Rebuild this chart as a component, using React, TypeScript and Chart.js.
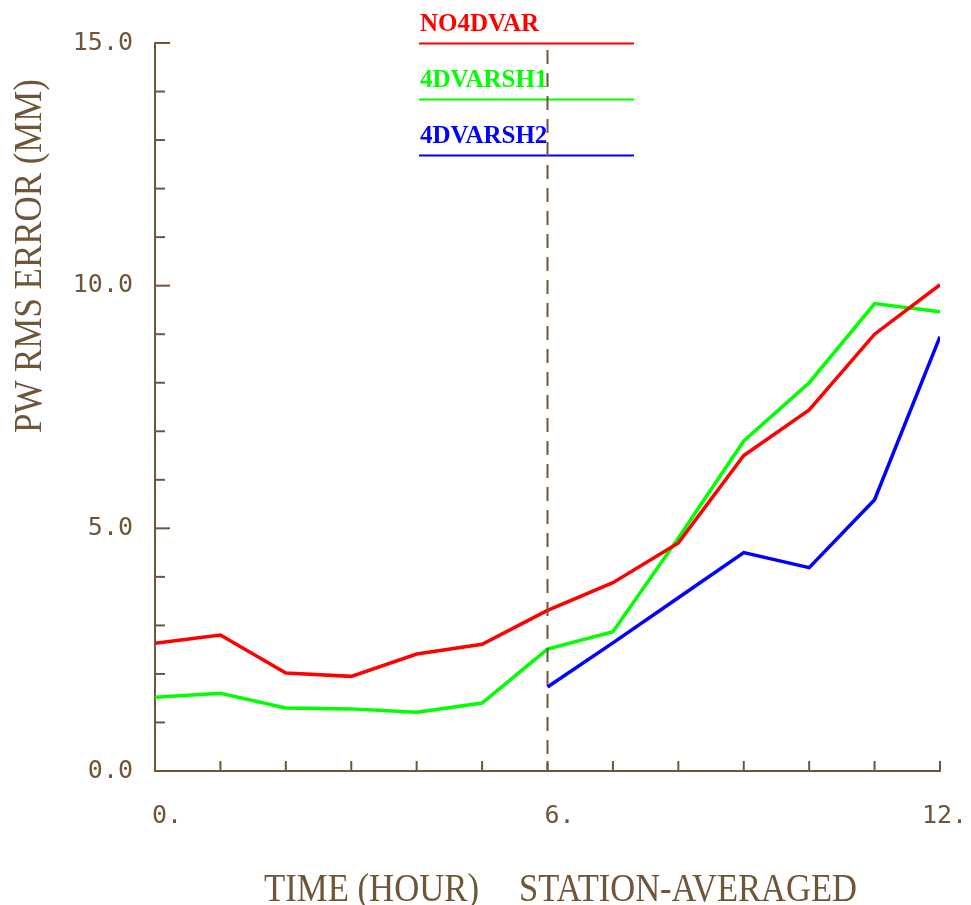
import React, { useEffect, useRef } from "react";
import { Chart, registerables } from "chart.js";

Chart.register(...registerables);

// ---- data ----
const hours = [0, 1, 2, 3, 4, 5, 6, 7, 8, 9, 10, 11, 12];
const no4dvar = [2.63, 2.8, 2.02, 1.95, 2.41, 2.61, 3.31, 3.88, 4.7, 6.5, 7.44, 9.0, 10.02];
const fdvarSH1 = [1.52, 1.6, 1.3, 1.28, 1.21, 1.4, 2.51, 2.87, 4.8, 6.8, 8.0, 9.63, 9.46];
const fdvarSH2 = [null, null, null, null, null, null, 1.73, 2.64, 3.57, 4.5, 4.19, 5.59, 8.95];
const seriesNames = ["NO4DVAR", "4DVARSH1", "4DVARSH2"];
const seriesColors = ["#ff0000", "#00ff00", "#0000ff"];
const xTickLabels = [0, 6, 12];
const yTickLabels = [0, 5, 10, 15];
const yTitle = "PW RMS ERROR (MM)";
const xTitleParts = ["TIME (HOUR)", "STATION-AVERAGED"];
const markerHour = 6;

const BROWN = "#705638";
const MONO = "'DejaVu Sans Mono', monospace";
const SERIF = "'Liberation Serif', serif";

const overlay = {
  id: "overlay",
  afterDatasetsDraw(chart: any) {
    const { ctx, chartArea } = chart;
    const xs = chart.scales.x;
    const ys = chart.scales.y;
    ctx.save();
    ctx.strokeStyle = BROWN;
    ctx.fillStyle = BROWN;
    ctx.lineWidth = 2;
    // y ticks (inward)
    for (let v = 0; v <= 15; v++) {
      const py = ys.getPixelForValue(v);
      const len = v % 5 === 0 ? 15 : 10;
      ctx.beginPath();
      ctx.moveTo(chartArea.left, py);
      ctx.lineTo(chartArea.left + len, py);
      ctx.stroke();
    }
    // x ticks (inward)
    for (const h of hours) {
      const px = xs.getPixelForValue(h);
      ctx.beginPath();
      ctx.moveTo(px, chartArea.bottom);
      ctx.lineTo(px, chartArea.bottom - 10);
      ctx.stroke();
    }
    // x tick labels
    ctx.font = `25px ${MONO}`;
    ctx.textBaseline = "middle";
    ctx.textAlign = "left";
    const cw = ctx.measureText("0").width;
    for (const v of xTickLabels) {
      const s = `${v}.`;
      const px = xs.getPixelForValue(v);
      ctx.fillText(s, px - (s.length - 2) * cw - 3, chartArea.bottom + 45);
    }
    // x title
    ctx.font = `40px ${SERIF}`;
    ctx.textBaseline = "alphabetic";
    ctx.textAlign = "left";
    ctx.fillText(xTitleParts[0], 264, 901, 215);
    ctx.fillText(xTitleParts[1], 519, 901, 338);
    // y title
    ctx.save();
    ctx.translate(41, 256);
    ctx.rotate(-Math.PI / 2);
    ctx.textAlign = "center";
    ctx.fillText(yTitle, 0, 0, 354);
    ctx.restore();

    // legend
    ctx.font = `bold 25px ${SERIF}`;
    ctx.textAlign = "left";
    ctx.textBaseline = "alphabetic";
    chart.data.datasets.forEach((ds: any, i: number) => {
      const ly = 43.5 + i * 56;
      ctx.fillStyle = ds.borderColor;
      ctx.strokeStyle = ds.borderColor;
      ctx.fillText(ds.label, 420, ly - 13);
      ctx.beginPath();
      ctx.moveTo(419, ly);
      ctx.lineTo(634, ly);
      ctx.stroke();
    });

    // dashed marker line
    ctx.strokeStyle = BROWN;
    ctx.lineWidth = 2;
    ctx.setLineDash([14, 9]);
    const mx = xs.getPixelForValue(markerHour);
    ctx.beginPath();
    ctx.moveTo(mx, 50);
    ctx.lineTo(mx, chartArea.bottom);
    ctx.stroke();
    ctx.restore();
  },
};

export default function App() {
  const ref = useRef<HTMLCanvasElement | null>(null);
  useEffect(() => {
    if (!ref.current) return;
    const mk = (data: (number | null)[], i: number) => ({
      label: seriesNames[i],
      data: data.map((y, k) => ({ x: hours[k], y })),
      borderColor: seriesColors[i],
      backgroundColor: seriesColors[i],
      borderWidth: 3.5,
      pointRadius: 0,
      tension: 0,
      fill: false,
    });
    const chart = new Chart(ref.current, {
      type: "line",
      data: {
        datasets: [mk(no4dvar, 0), mk(fdvarSH1, 1), mk(fdvarSH2, 2)],
      },
      options: {
        responsive: false,
        animation: false,
        layout: { padding: { top: 43, right: 31, left: 0, bottom: 0 } },
        plugins: { legend: { display: false }, tooltip: { enabled: false } },
        scales: {
          x: {
            type: "linear",
            min: 0,
            max: 12,
            grid: { display: false, drawTicks: false },
            border: { display: true, color: BROWN, width: 2 },
            ticks: { display: false },
            afterFit: (s: any) => {
              s.height = 134;
            },
          },
          y: {
            type: "linear",
            min: 0,
            max: 15,
            grid: { display: false, drawTicks: false },
            border: { display: true, color: BROWN, width: 2 },
            afterBuildTicks: (s: any) => {
              s.ticks = yTickLabels.map((v) => ({ value: v }));
            },
            ticks: {
              color: BROWN,
              padding: 22,
              font: { family: MONO, size: 25 },
              callback: (v: any) => Number(v).toFixed(1),
            },
            afterFit: (s: any) => {
              s.width = 155;
            },
          },
        },
      },
      plugins: [overlay],
    } as any);
    return () => chart.destroy();
  }, []);
  return (
    <div style={{ position: "absolute", left: 0, top: 0, width: 971, height: 905, background: "#fff" }}>
      <canvas ref={ref} width={971} height={905} />
    </div>
  );
}
